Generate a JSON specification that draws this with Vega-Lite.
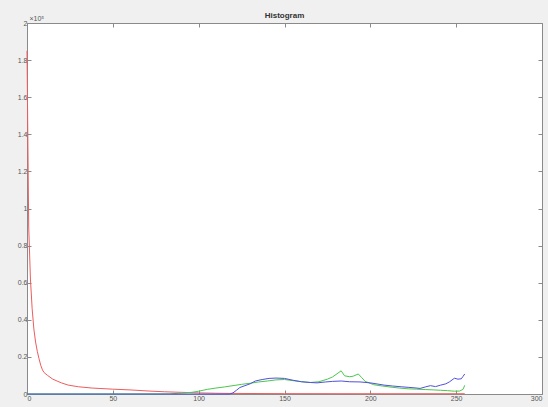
{
  "$schema": "https://vega.github.io/schema/vega-lite/v6.json",
  "autosize": {"type": "none"},
  "width": 515,
  "height": 371,
  "padding": {"left": 27, "top": 23, "right": 6, "bottom": 13},
  "background": "#f0f0f0",
  "config": {
    "view": {"fill": "white", "stroke": null},
    "axis": {"grid": false, "domainColor": "#8a8a8a", "tickColor": "#8a8a8a", "labelColor": "#555555", "labelFont": "Liberation Sans", "labelFontSize": 7, "tickSize": -4, "domainWidth": 1}
  },
  "title": {"text": "Histogram", "font": "Liberation Sans", "fontSize": 8, "fontWeight": "bold", "color": "#333333", "offset": -6, "anchor": "middle"},
  "datasets": {
    "h": [
      {"bin": 0, "c": "R", "n": 185000}, {"bin": 1, "c": "R", "n": 90000}, {"bin": 2, "c": "R", "n": 62000}, {"bin": 3, "c": "R", "n": 46000}, {"bin": 4, "c": "R", "n": 35000}, {"bin": 5, "c": "R", "n": 28000}, {"bin": 6, "c": "R", "n": 23000}, {"bin": 7, "c": "R", "n": 19000}, {"bin": 8, "c": "R", "n": 15500}, {"bin": 9, "c": "R", "n": 13000}, {"bin": 10, "c": "R", "n": 11500}, {"bin": 12, "c": "R", "n": 10000}, {"bin": 15, "c": "R", "n": 8000}, {"bin": 18, "c": "R", "n": 6800}, {"bin": 20, "c": "R", "n": 6000}, {"bin": 24, "c": "R", "n": 4800}, {"bin": 30, "c": "R", "n": 3900}, {"bin": 38, "c": "R", "n": 3200}, {"bin": 42, "c": "R", "n": 3000}, {"bin": 50, "c": "R", "n": 2600}, {"bin": 60, "c": "R", "n": 2200}, {"bin": 71, "c": "R", "n": 1600}, {"bin": 80, "c": "R", "n": 1200}, {"bin": 90, "c": "R", "n": 900}, {"bin": 100, "c": "R", "n": 600}, {"bin": 110, "c": "R", "n": 400}, {"bin": 120, "c": "R", "n": 300}, {"bin": 150, "c": "R", "n": 200}, {"bin": 200, "c": "R", "n": 150}, {"bin": 255, "c": "R", "n": 150},
      {"bin": 0, "c": "G", "n": 0}, {"bin": 83, "c": "G", "n": 0}, {"bin": 88, "c": "G", "n": 400}, {"bin": 92, "c": "G", "n": 600}, {"bin": 96, "c": "G", "n": 900}, {"bin": 100, "c": "G", "n": 1500}, {"bin": 105, "c": "G", "n": 2500}, {"bin": 110, "c": "G", "n": 3200}, {"bin": 115, "c": "G", "n": 3800}, {"bin": 120, "c": "G", "n": 4500}, {"bin": 125, "c": "G", "n": 5200}, {"bin": 130, "c": "G", "n": 5800}, {"bin": 135, "c": "G", "n": 6500}, {"bin": 140, "c": "G", "n": 7000}, {"bin": 145, "c": "G", "n": 7600}, {"bin": 150, "c": "G", "n": 7800}, {"bin": 155, "c": "G", "n": 7200}, {"bin": 160, "c": "G", "n": 6600}, {"bin": 165, "c": "G", "n": 6200}, {"bin": 170, "c": "G", "n": 6600}, {"bin": 175, "c": "G", "n": 8000}, {"bin": 178, "c": "G", "n": 9200}, {"bin": 180, "c": "G", "n": 10500}, {"bin": 183, "c": "G", "n": 12500}, {"bin": 185, "c": "G", "n": 9800}, {"bin": 188, "c": "G", "n": 9300}, {"bin": 190, "c": "G", "n": 9600}, {"bin": 193, "c": "G", "n": 10800}, {"bin": 195, "c": "G", "n": 8800}, {"bin": 197, "c": "G", "n": 6800}, {"bin": 202, "c": "G", "n": 5000}, {"bin": 207, "c": "G", "n": 4300}, {"bin": 212, "c": "G", "n": 3700}, {"bin": 217, "c": "G", "n": 3200}, {"bin": 222, "c": "G", "n": 2800}, {"bin": 227, "c": "G", "n": 2600}, {"bin": 232, "c": "G", "n": 2400}, {"bin": 237, "c": "G", "n": 2200}, {"bin": 241, "c": "G", "n": 2000}, {"bin": 245, "c": "G", "n": 1800}, {"bin": 249, "c": "G", "n": 1500}, {"bin": 252, "c": "G", "n": 1600}, {"bin": 254, "c": "G", "n": 2500}, {"bin": 255, "c": "G", "n": 4700},
      {"bin": 0, "c": "B", "n": 0}, {"bin": 118, "c": "B", "n": 0}, {"bin": 120, "c": "B", "n": 600}, {"bin": 122, "c": "B", "n": 2000}, {"bin": 124, "c": "B", "n": 3500}, {"bin": 127, "c": "B", "n": 4500}, {"bin": 130, "c": "B", "n": 5500}, {"bin": 133, "c": "B", "n": 7000}, {"bin": 137, "c": "B", "n": 7800}, {"bin": 141, "c": "B", "n": 8400}, {"bin": 145, "c": "B", "n": 8600}, {"bin": 150, "c": "B", "n": 8400}, {"bin": 155, "c": "B", "n": 7400}, {"bin": 160, "c": "B", "n": 6600}, {"bin": 165, "c": "B", "n": 6200}, {"bin": 169, "c": "B", "n": 6000}, {"bin": 174, "c": "B", "n": 6500}, {"bin": 178, "c": "B", "n": 6800}, {"bin": 183, "c": "B", "n": 7000}, {"bin": 188, "c": "B", "n": 6600}, {"bin": 194, "c": "B", "n": 6500}, {"bin": 200, "c": "B", "n": 6000}, {"bin": 204, "c": "B", "n": 5400}, {"bin": 208, "c": "B", "n": 4800}, {"bin": 213, "c": "B", "n": 4300}, {"bin": 218, "c": "B", "n": 3900}, {"bin": 222, "c": "B", "n": 3600}, {"bin": 226, "c": "B", "n": 3300}, {"bin": 229, "c": "B", "n": 3000}, {"bin": 232, "c": "B", "n": 3800}, {"bin": 235, "c": "B", "n": 4500}, {"bin": 238, "c": "B", "n": 4000}, {"bin": 241, "c": "B", "n": 4800}, {"bin": 244, "c": "B", "n": 5500}, {"bin": 246, "c": "B", "n": 6500}, {"bin": 249, "c": "B", "n": 8500}, {"bin": 251, "c": "B", "n": 8000}, {"bin": 253, "c": "B", "n": 8200}, {"bin": 254, "c": "B", "n": 9500}, {"bin": 255, "c": "B", "n": 10800}
    ]
  },
  "data": {"name": "h"},
  "layer": [
    {
      "mark": {"type": "line", "strokeWidth": 1, "clip": false},
      "encoding": {
        "x": {"field": "bin", "type": "quantitative", "scale": {"domain": [0, 300], "nice": false, "zero": false}, "axis": {"values": [0, 50, 100, 150, 200, 250, 300], "title": null, "labelPadding": 4}},
        "y": {"field": "n", "type": "quantitative", "scale": {"domain": [0, 200000], "nice": false}, "axis": {"values": [0, 20000, 40000, 60000, 80000, 100000, 120000, 140000, 160000, 180000, 200000], "labelExpr": "'' + datum.value / 100000", "title": "×10⁵", "titleAngle": 0, "titleAlign": "left", "titleBaseline": "bottom", "titleX": 2, "titleY": -2, "titleFont": "Liberation Sans", "titleFontSize": 7, "titleFontWeight": "normal", "titleColor": "#555555", "labelPadding": 4}},
        "color": {"field": "c", "type": "nominal", "scale": {"domain": ["R", "G", "B"], "range": ["#ee5c5c", "#4ac84a", "#5050dd"]}, "legend": null},
        "order": {"field": "bin", "type": "quantitative"}
      }
    },
    {
      "mark": {"type": "point", "opacity": 0},
      "encoding": {
        "x": {"field": "bin", "type": "quantitative", "axis": {"orient": "top", "values": [0, 50, 100, 150, 200, 250, 300], "labels": false, "title": null}},
        "y": {"field": "n", "type": "quantitative", "axis": {"orient": "right", "values": [0, 20000, 40000, 60000, 80000, 100000, 120000, 140000, 160000, 180000, 200000], "labels": false, "title": null}}
      }
    }
  ],
  "resolve": {"axis": {"x": "independent", "y": "independent"}}
}
